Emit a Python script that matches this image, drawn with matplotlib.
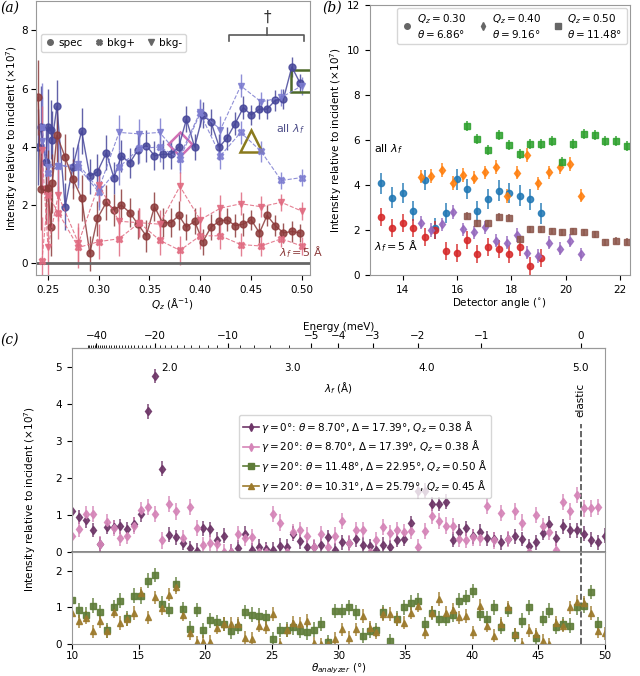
import numpy as np
import matplotlib
matplotlib.use("Agg")
import matplotlib.pyplot as plt
from matplotlib.lines import Line2D

plt.rcParams['font.size'] = 7.5

# ---------------- panel (a) data ----------------
qz_spec = [0.2403, 0.2429, 0.2477, 0.25, 0.2526, 0.2542, 0.2588, 0.2669, 0.2744, 0.2831,
           0.2912, 0.2987, 0.3075, 0.3149, 0.3224, 0.3305, 0.3386, 0.3468, 0.3549, 0.3630,
           0.3711, 0.3789, 0.3864, 0.3945, 0.4026, 0.4107, 0.4188, 0.4263, 0.4344, 0.4425,
           0.4503, 0.4584, 0.4659, 0.4740, 0.4821, 0.4903, 0.4984]
spec_all = [4.0, 4.7, 3.5, 4.7, 4.6, 4.25, 5.4, 1.95, 3.3, 4.55,
            3.0, 3.15, 3.8, 2.95, 3.7, 3.45, 3.9, 4.05, 3.7, 3.75,
            3.75, 4.0, 4.95, 4.0, 5.1, 4.85, 4.0, 4.3, 4.8, 5.35,
            5.1, 5.3, 5.3, 5.6, 5.65, 6.75, 6.2]
spec_5A = [5.7, 2.55, 2.55, 2.6, 1.25, 2.75, 4.4, 3.65, 2.9, 2.25,
           0.35, 1.55, 2.1, 1.85, 2.0, 1.75, 1.35, 0.95, 1.95, 1.4,
           1.4, 1.65, 1.25, 1.45, 0.75, 1.25, 1.45, 1.5, 1.3, 1.35,
           1.5, 1.05, 1.65, 1.3, 1.05, 1.1, 1.05]
err_spec = [1.3, 1.4, 1.2, 1.3, 1.0, 1.0, 0.9, 0.8, 0.7, 0.8,
            0.6, 0.6, 0.6, 0.55, 0.55, 0.5, 0.5, 0.55, 0.5, 0.5,
            0.5, 0.5, 0.45, 0.45, 0.45, 0.45, 0.45, 0.4, 0.4, 0.4,
            0.35, 0.35, 0.35, 0.35, 0.35, 0.35, 0.3]

qz_bkg = [0.244, 0.25, 0.26, 0.28, 0.30, 0.32, 0.34, 0.36, 0.38, 0.40, 0.42, 0.44, 0.46, 0.48, 0.50]
bkgp_all = [4.7, 3.1, 3.35, 3.3, 2.45, 3.3, 3.95, 4.0, 3.6, 5.15, 3.7, 4.5, 3.85, 2.85, 2.95]
bkgm_all = [4.2, 3.3, 3.35, 3.4, 2.55, 4.5, 4.45, 4.5, 3.7, 5.2, 4.6, 6.1, 5.55, 5.7, 6.1]
bkgp_5A = [0.1, 2.35, 1.75, 0.55, 0.75, 0.85, 1.4, 0.8, 0.45, 0.95, 0.95, 0.65, 0.6, 0.85, 0.6]
bkgm_5A = [3.9, 0.55, 2.35, 0.7, 2.7, 1.45, 1.4, 1.35, 2.65, 1.5, 1.9, 2.05, 1.95, 2.1, 1.8]
err_bkg = [1.5, 1.0, 0.9, 0.7, 0.6, 0.6, 0.5, 0.5, 0.5, 0.45, 0.45, 0.4, 0.35, 0.3, 0.3]

# ---------------- panel (b) data ----------------
det_030 = [13.22, 13.61, 14.01, 14.40, 14.81, 15.20, 15.60, 15.99, 16.36, 16.75, 17.15, 17.54, 17.92, 18.33, 18.70, 19.10]
all_030 = [4.07, 3.44, 3.63, 2.86, 4.22, 2.07, 2.75, 4.25, 3.82, 2.86, 3.38, 3.75, 3.63, 3.53, 3.36, 2.74]
five_030 = [2.56, 2.10, 2.33, 2.10, 1.70, 2.0, 1.08, 1.0, 1.55, 0.93, 1.23, 1.18, 0.93, 1.23, 0.4, 0.78]
det_040 = [14.67, 15.05, 15.44, 15.84, 16.23, 16.63, 17.03, 17.42, 17.82, 18.21, 18.59, 18.98, 19.38, 19.78, 20.17, 20.57]
all_040 = [4.37, 4.41, 4.67, 4.10, 4.44, 4.33, 4.56, 4.81, 3.51, 4.55, 5.33, 4.07, 4.56, 4.81, 4.93, 3.53]
five_040 = [2.33, 2.0, 2.25, 2.81, 2.03, 1.90, 2.12, 1.53, 1.44, 1.78, 1.0, 0.84, 1.44, 1.18, 1.53, 0.92]
det_050 = [16.36, 16.75, 17.15, 17.54, 17.92, 18.33, 18.70, 19.10, 19.49, 19.87, 20.26, 20.67, 21.06, 21.45, 21.85, 22.24]
all_050 = [6.62, 6.03, 5.56, 6.22, 5.78, 5.38, 5.82, 5.81, 5.97, 5.04, 5.82, 6.27, 6.22, 5.97, 5.97, 5.75]
five_050 = [2.64, 2.30, 2.30, 2.59, 2.55, 1.60, 2.03, 2.03, 1.96, 1.90, 1.96, 1.90, 1.82, 1.45, 1.53, 1.48]

# ---------------- panel (c) data ----------------
theta_an = np.linspace(10, 50, 78)
g0_038 = [1.1, 0.95, 0.86, 0.6, 0.22, 0.68, 0.68, 0.7, 0.62, 0.75,
          1.02, 3.8, 4.75, 2.25, 0.47, 0.4, 0.25, 0.11, 0.04, 0.65,
          0.62, 0.34, 0.45, 0.02, 0.12, 0.5, 0.05, 0.15, 0.09, 0.07,
          0.18, 0.15, 0.5, 0.3, 0.14, 0.14, 0.2, 0.4, 0.05, 0.27,
          0.25, 0.35, 0.2, 0.16, 0.07, 0.2, 0.14, 0.33, 0.36, 0.78,
          1.64, 1.66, 1.3, 1.3, 1.36, 0.34, 0.55, 0.65, 0.43, 0.56,
          0.38, 0.35, 0.27, 0.36, 0.43, 0.36, 0.16, 0.27, 0.52, 0.77,
          0.38, 0.7, 0.59, 0.59, 0.5, 0.34, 0.27, 0.45]
g20_038 = [0.45, 0.63, 1.02, 1.03, 0.22, 0.82, 0.65, 0.38, 0.45, 0.72,
           1.13, 1.22, 1.03, 0.32, 1.3, 1.1, 0.38, 1.22, 0.65, 0.2,
           0.25, 0.22, 0.0, 0.0, 0.5, 0.38, 0.41, 0.0, 0.0, 1.03,
           0.8, 0.0, 0.55, 0.6, 0.45, 0.13, 0.5, 0.13, 0.45, 0.85,
           0.25, 0.6, 0.6, 0.0, 0.33, 0.68, 0.52, 0.6, 0.55, 0.58,
           0.13, 0.58, 0.98, 0.85, 0.72, 0.7, 0.36, 0.33, 0.4, 0.38,
           1.25, 0.32, 1.05, 0.36, 1.1, 0.8, 0.0, 1.0, 0.7, 0.55,
           0.06, 1.36, 1.1, 1.55, 1.18, 1.18, 1.22, np.nan]
g20_050 = [1.2, 0.92, 0.8, 1.05, 0.88, 0.38, 1.0, 1.18, 0.7, 1.32,
           1.3, 1.73, 1.88, 1.1, 0.93, 1.63, 0.96, 0.42, 0.93, 0.38,
           0.65, 0.6, 0.55, 0.35, 0.48, 0.88, 0.8, 0.78, 0.73, 0.14,
           0.39, 0.4, 0.46, 0.37, 0.32, 0.4, 0.55, 0.05, 0.9, 0.9,
           1.0, 0.87, 0.23, 0.37, 0.39, 0.87, 0.09, 0.69, 1.0, 1.13,
           1.18, 0.55, 0.85, 0.69, 0.69, 0.8, 1.18, 1.27, 1.45, 0.82,
           0.69, 1.0, 0.48, 0.93, 0.25, 0.64, 1.0, 0.18, 0.69, 0.91,
           0.48, 0.55, 0.5, 1.0, 1.05, 1.42, 0.55, np.nan]
g20_045 = [0.85, 0.62, 0.72, 0.35, 0.62, 0.35, 0.88, 0.58, 0.68, 0.85,
           1.38, 0.73, 1.28, 0.98, 1.35, 1.55, 0.8, 0.3, 0.05, 0.07,
           0.07, 0.45, 0.55, 0.55, 0.55, 0.18, 0.14, 0.5, 0.46, 0.82,
           0.0, 0.38, 0.58, 0.55, 0.64, 0.02, 0.0, 0.0, 0.14, 0.41,
           0.18, 0.41, 0.77, 0.45, 0.32, 0.82, 0.82, 0.68, 0.59, 0.86,
           1.05, 0.32, 0.86, 1.23, 0.86, 0.93, 0.73, 0.77, 0.32, 1.05,
           0.5, 0.23, 0.55, 1.0, 0.27, 0.0, 0.38, 0.27, 0.09, 0.0,
           0.59, 0.5, 1.0, 1.15, 1.12, 0.85, 0.35, 0.3]

D_PG = 3.354  # graphite d-spacing


def theta2lam(t):
    return 2 * D_PG * np.sin(np.radians(t))


def lam2theta(l):
    return np.degrees(np.arcsin(np.clip(l / (2 * D_PG), -1, 1)))


E_EL = 81.81 / 5.0**2


def theta2E(t):
    lam = np.maximum(theta2lam(t), 1e-3)
    return E_EL - 81.81 / lam**2


def E2theta(e):
    lam = np.sqrt(81.81 / np.maximum(E_EL - np.asarray(e, float), 1e-6))
    return lam2theta(lam)


def style_spines(ax):
    for s in ax.spines.values():
        s.set_color('0.6')


fig = plt.figure(figsize=(6.4, 6.76), dpi=100)
ylab = 'Intensity relative to incident ($\\times10^7$)'
serif = dict(family='DejaVu Serif', style='italic', fontsize=10)

# ================= (a) =================
ax = fig.add_axes([0.056, 0.593, 0.428, 0.405])
blue, lblue = '#47479a', '#7c7cd0'
red, lred = '#8c3b3b', '#e06a80'
kw = dict(capsize=0, elinewidth=1, alpha=0.85, ms=5)
ax.errorbar(qz_spec, spec_all, yerr=err_spec, fmt='o-', color=blue, lw=1, **kw)
ax.errorbar(qz_bkg, bkgp_all, yerr=err_bkg, fmt='X--', color=lblue, lw=0.8, **kw)
ax.errorbar(qz_bkg, bkgm_all, yerr=err_bkg, fmt='v--', color=lblue, lw=0.8, **kw)
ax.errorbar(qz_spec, spec_5A, yerr=err_spec, fmt='o-', color=red, lw=1, **kw)
ax.errorbar(qz_bkg, bkgp_5A, yerr=err_bkg, fmt='X--', color=lred, lw=0.8, **kw)
ax.errorbar(qz_bkg, bkgm_5A, yerr=err_bkg, fmt='v--', color=lred, lw=0.8, **kw)
ax.axhline(0, color='0.4', lw=2)
ax.plot(0.38, 4.1, marker='D', ms=12, mfc='none', mec='#d070b4', mew=1.8)
ax.plot(0.45, 4.2, marker='^', ms=16, mfc='none', mec='#8a7a1e', mew=1.8)
ax.plot(0.50, 6.25, marker='s', ms=16, mfc='none', mec='#4e6a2a', mew=1.8)
ax.plot([0.428, 0.428, 0.502, 0.502], [7.65, 7.85, 7.85, 7.65], color='0.35', lw=1.2)
ax.plot([0.466, 0.466], [7.85, 8.1], color='0.35', lw=1.2)
ax.text(0.466, 8.2, '\u2020', ha='center', va='bottom', fontsize=11, color='0.2')
ax.text(0.475, 4.5, 'all $\\lambda_f$', color='#50508a', fontsize=8)
ax.text(0.478, 0.25, '$\\lambda_f = 5$ \u00c5', color='#8c3b3b', fontsize=8)
leg_h = [Line2D([], [], ls='', marker='o', color='0.4', ms=4),
         Line2D([], [], ls='', marker='X', color='0.4', ms=4),
         Line2D([], [], ls='', marker='v', color='0.4', ms=4)]
ax.legend(leg_h, ['spec', 'bkg+', 'bkg-'], ncol=3, loc='upper left',
          bbox_to_anchor=(0.0, 0.9), handletextpad=0.3, columnspacing=1.0,
          handlelength=1.0, fontsize=7.5)
ax.set_xlim(0.238, 0.508)
ax.set_ylim(-0.4, 9.0)
ax.set_yticks([0, 2, 4, 6, 8])
ax.set_xticks([0.25, 0.30, 0.35, 0.40, 0.45, 0.50])
ax.tick_params(axis='y', pad=2)
ax.set_xlabel('$Q_z$ (\u00c5$^{-1}$)', labelpad=1)
ax.set_ylabel(ylab, labelpad=1)
style_spines(ax)
fig.text(0.0, 0.982, '(a)', **serif)

# ================= (b) =================
ax = fig.add_axes([0.578, 0.593, 0.406, 0.400])
kb = dict(ls='', capsize=0, elinewidth=1.2, alpha=0.85)
ax.errorbar(det_030, all_030, yerr=0.45, marker='o', ms=4.5, color='tab:blue', **kb)
ax.errorbar(det_030, five_030, yerr=0.4, marker='o', ms=4.5, color='tab:red', **kb)
ax.errorbar(det_040, all_040, yerr=0.3, marker='d', ms=4.5, color='tab:orange', **kb)
ax.errorbar(det_040, five_040, yerr=0.3, marker='d', ms=4.5, color='tab:purple', **kb)
ax.errorbar(det_050, all_050, yerr=0.22, marker='s', ms=4.5, color='tab:green', **kb)
ax.errorbar(det_050, five_050, yerr=0.15, marker='s', ms=4.5, color='tab:brown', **kb)
ax.text(12.95, 5.45, 'all $\\lambda_f$', fontsize=8)
ax.text(12.95, 1.1, '$\\lambda_f = 5$ \u00c5', fontsize=8)
leg_h = [Line2D([], [], ls='', marker='o', color='0.4', ms=4),
         Line2D([], [], ls='', marker='d', color='0.4', ms=4),
         Line2D([], [], ls='', marker='s', color='0.4', ms=4)]
leg_l = ['$Q_z = 0.30$\n$\\theta = 6.86°$', '$Q_z = 0.40$\n$\\theta = 9.16°$',
         '$Q_z = 0.50$\n$\\theta = 11.48°$']
ax.legend(leg_h, leg_l, ncol=3, loc='upper right', handletextpad=0.3,
          columnspacing=1.0, handlelength=1.2, fontsize=7.5, borderaxespad=0.3)
ax.set_xlim(12.8, 22.35)
ax.set_ylim(0, 12)
ax.set_xticks([14, 16, 18, 20, 22])
ax.set_yticks([0, 2, 4, 6, 8, 10, 12])
ax.set_xlabel('Detector angle ($^{\\circ}$)', labelpad=1)
ax.set_ylabel(ylab, labelpad=2)
style_spines(ax)
fig.text(0.503, 0.982, '(b)', **serif)

# ================= (c) =================
ax1 = fig.add_axes([0.1125, 0.183, 0.8325, 0.302])
ax2 = fig.add_axes([0.1125, 0.047, 0.8325, 0.136], sharex=ax1)
c_dark, c_pink, c_green, c_brown = '#6e3668', '#d585b8', '#5e7c38', '#9c7a2c'
kc = dict(ls='', capsize=0, elinewidth=1.1, alpha=0.9, ms=4.5)
ax1.errorbar(theta_an, g0_038, yerr=0.2, marker='d', color=c_dark, **kc)
ax1.errorbar(theta_an, g20_038, yerr=0.22, marker='d', color=c_pink, **kc)
ax2.errorbar(theta_an, g20_050, yerr=0.2, marker='s', color=c_green, **kc)
ax2.errorbar(theta_an, g20_045, yerr=0.18, marker='^', color=c_brown, **kc)

th_el = lam2theta(5.0)
ax1.axvline(th_el, ymax=3.45 / 5.5, color='0.3', ls='--', lw=1.2)
ax2.axvline(th_el, color='0.3', ls='--', lw=1.2)
ax1.text(th_el, 4.1, 'elastic', rotation=90, ha='center', va='center', fontsize=7.5)

ax1.set_xlim(10, 50)
ax1.set_ylim(0, 5.5)
ax2.set_ylim(0, 2.5)
ax1.set_yticks([0, 1, 2, 3, 4, 5])
ax2.set_yticks([0, 1, 2])
ax1.tick_params(axis='x', bottom=False, labelbottom=False)
ax2.set_xticks([10, 15, 20, 25, 30, 35, 40, 45, 50])
ax2.tick_params(axis='x', pad=1.5)
ax2.set_xlabel('$\\theta_{analyzer}$ (°)', labelpad=0)
for a in (ax1, ax2):
    style_spines(a)
ax1.spines['bottom'].set_color('0.45')
ax1.spines['bottom'].set_linewidth(1.2)

leg_h = [Line2D([], [], color=c, marker=m, ms=4, lw=1.2)
         for c, m in [(c_dark, 'd'), (c_pink, 'd'), (c_green, 's'), (c_brown, '^')]]
leg_l = ['$\\gamma = 0°$: $\\theta = 8.70°$, $\\Delta = 17.39°$, $Q_z = 0.38$ \u00c5',
         '$\\gamma = 20°$: $\\theta = 8.70°$, $\\Delta = 17.39°$, $Q_z = 0.38$ \u00c5',
         '$\\gamma = 20°$: $\\theta = 11.48°$, $\\Delta = 22.95°$, $Q_z = 0.50$ \u00c5',
         '$\\gamma = 20°$: $\\theta = 10.31°$, $\\Delta = 25.79°$, $Q_z = 0.45$ \u00c5']
ax1.legend(leg_h, leg_l, loc='upper center', bbox_to_anchor=(0.55, 0.70),
           handlelength=1.5, handletextpad=0.2, labelspacing=0.35, fontsize=7.5)

# top axes: energy (outside) and lambda_f (inside)
sec_E = ax1.secondary_xaxis('top', functions=(theta2E, E2theta))
sec_E.set_xticks([-40, -20, -10, -5, -4, -3, -2, -1, 0])
sec_E.set_xticks(list(range(-45, 0)), minor=True)
sec_E.set_xlabel('Energy (meV)', labelpad=1)
sec_E.tick_params(labelsize=7.5, pad=1.5)
sec_E.spines['top'].set_color('0.6')

sec_L = ax1.secondary_xaxis('top', functions=(theta2lam, lam2theta))
sec_L.set_xticks([2.0, 3.0, 4.0, 5.0])
sec_L.set_xticklabels(['2.0', '3.0', '4.0', '5.0'])
sec_L.tick_params(direction='in', length=0, pad=-18, labelsize=7.5)
sec_L.set_xlabel('$\\lambda_f$ (\u00c5)', labelpad=-32)
sec_L.spines['top'].set_visible(False)

fig.text(0.047, 0.262, ylab, rotation=90, ha='center', va='center')
fig.text(0.0, 0.492, '(c)', **serif)

fig.savefig('out.png', dpi=100)
